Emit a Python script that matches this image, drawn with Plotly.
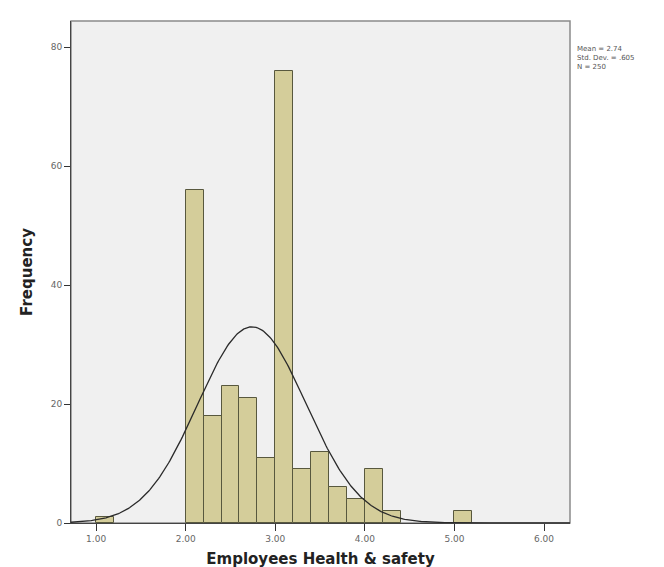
import numpy as np
import plotly.graph_objects as go

# Histogram bins (left edges) and frequencies
bin_starts = [1.0, 2.0, 2.2, 2.4, 2.6, 2.8, 3.0, 3.2, 3.4, 3.6, 3.8, 4.0, 4.2, 5.0]
frequencies = [1, 56, 18, 23, 21, 11, 76, 9, 12, 6, 4, 9, 2, 2]
bin_width = 0.2

# Stated statistics
mean_val = 2.74
sd_val = 0.605
n_val = 250
stats_lines = ["Mean = 2.74", "Std. Dev. = .605", "N = 250"]

x_tick_vals = [1, 2, 3, 4, 5, 6]
x_tick_text = ["1.00", "2.00", "3.00", "4.00", "5.00", "6.00"]
y_tick_vals = [0, 20, 40, 60, 80]

centers = [b + bin_width / 2 for b in bin_starts]

# fitted normal curve from stated mean/sd/N
xc = np.linspace(0.72, 6.29, 400)
yc = n_val * bin_width / (sd_val * np.sqrt(2 * np.pi)) * np.exp(-0.5 * ((xc - mean_val) / sd_val) ** 2)

fig = go.Figure()
fig.add_trace(go.Bar(
    x=centers, y=frequencies, width=bin_width,
    marker=dict(color="#d4cd9a", line=dict(color="#58583e", width=1)),
    hoverinfo="x+y",
))
fig.add_trace(go.Scatter(
    x=xc, y=yc, mode="lines",
    line=dict(color="#2a2a2a", width=1.3),
    hoverinfo="skip",
))

tick_font = dict(family="DejaVu Sans, Verdana, sans-serif", size=9, color="#666666")
title_font = dict(family="DejaVu Sans, Verdana, sans-serif", size=15, color="#222222")

fig.update_layout(
    width=664, height=567,
    margin=dict(l=63, r=102, t=13, b=52),
    paper_bgcolor="white",
    plot_bgcolor="#f0f0f0",
    showlegend=False,
    bargap=0,
    font=dict(family="DejaVu Sans, Verdana, sans-serif", color="#555555", size=9),
    xaxis=dict(
        range=[0.72, 6.29],
        tickvals=x_tick_vals, ticktext=x_tick_text,
        ticks="outside", ticklen=7, tickcolor="#333333",
        showgrid=False, zeroline=False,
        showline=True, linecolor="#444444", linewidth=1,
        tickfont=tick_font,
        title=dict(text="<b>Employees Health & safety</b>", font=title_font, standoff=10),
    ),
    yaxis=dict(
        range=[0, 84.37],
        tickvals=y_tick_vals,
        ticks="outside", ticklen=6, tickcolor="#333333",
        showgrid=False, zeroline=False,
        showline=True, linecolor="#444444", linewidth=1,
        tickfont=tick_font,
        title=dict(text="<b>Frequency</b>", font=title_font, standoff=14),
    ),
    shapes=[dict(
        type="rect", xref="paper", yref="paper", x0=0, x1=1, y0=0, y1=1,
        line=dict(color="#8a8a8a", width=1.5), fillcolor="rgba(0,0,0,0)", layer="below",
    )],
)

# stats text lines (pixel centres from top; plot top at 13)
for line, ypix in zip(stats_lines, [41, 50, 59]):
    fig.add_annotation(
        x=1.0, xref="paper", xanchor="left", xshift=6,
        y=1.0, yref="paper", yanchor="middle", yshift=-(ypix - 13),
        text=line, showarrow=False, align="left",
        borderpad=0,
        font=dict(family="DejaVu Sans, Verdana, sans-serif", size=7, color="#555555"),
    )

fig.write_html("out.html")
